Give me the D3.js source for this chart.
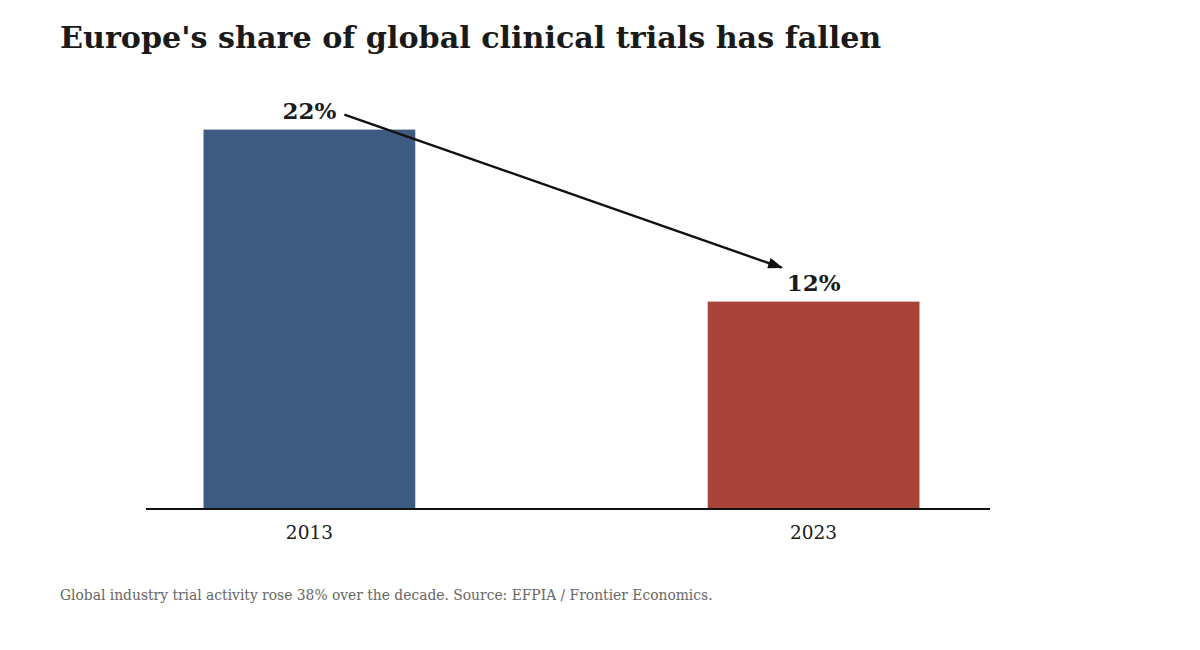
<!DOCTYPE html>
<html>
<head>
<meta charset="utf-8">
<script src="https://cdn.jsdelivr.net/npm/d3@7"></script>
<style>
  body { margin: 0; background: #fff; }
  text { font-family: Georgia, "DejaVu Serif", serif; }
</style>
</head>
<body>
<svg id="chart" width="1200" height="650"></svg>
<script>
// Europe's share of global clinical trials
const YEARS = ['2013', '2023'];
const SHARES = [22, 12];
const COLORS = ['#3d5a80', '#a8443a'];

const W = 1200, H = 650;
const MARGIN = { top: 79, left: 146, right: 210, bottom: 141 };

const svg = d3.select('#chart');

const x = d3.scaleBand()
  .domain(YEARS)
  .range([MARGIN.left - 6, W - MARGIN.right - 7])
  .paddingInner(0.58)
  .paddingOuter(0.126);

const y = d3.scaleLinear()
  .domain([0, 25])
  .range([H - MARGIN.bottom, MARGIN.top]);

// title
svg.append('text')
  .attr('x', 60).attr('y', 48)
  .attr('font-size', 30.2).attr('font-weight', 'bold')
  .attr('fill', '#1a1a1a')
  .text("Europe's share of global clinical trials has fallen");

// bars
svg.selectAll('rect.bar')
  .data(YEARS)
  .join('rect')
  .attr('class', 'bar')
  .attr('x', d => x(d))
  .attr('y', (d, i) => y(SHARES[i]) - 1)
  .attr('width', x.bandwidth())
  .attr('height', (d, i) => y(0) - y(SHARES[i]) + 2)
  .attr('fill', (d, i) => COLORS[i]);

// baseline
svg.append('line')
  .attr('x1', MARGIN.left).attr('x2', W - MARGIN.right)
  .attr('y1', y(0)).attr('y2', y(0))
  .attr('stroke', '#111').attr('stroke-width', 2);

// year labels
svg.selectAll('text.year')
  .data(YEARS)
  .join('text')
  .attr('class', 'year')
  .attr('x', d => x(d) + x.bandwidth() / 2)
  .attr('y', y(0) + 30)
  .attr('text-anchor', 'middle')
  .attr('font-size', 18.5)
  .attr('fill', '#1a1a1a')
  .text(d => d);

// value labels
svg.selectAll('text.val')
  .data(YEARS)
  .join('text')
  .attr('class', 'val')
  .attr('x', d => x(d) + x.bandwidth() / 2)
  .attr('y', (d, i) => y(SHARES[i]) - 12)
  .attr('text-anchor', 'middle')
  .attr('font-size', 23).attr('font-weight', 'bold')
  .attr('fill', '#1a1a1a')
  .text((d, i) => SHARES[i] + '%');

// arrow from first to second label
svg.append('defs').append('marker')
  .attr('id', 'head')
  .attr('viewBox', '0 0 10 10')
  .attr('refX', 9).attr('refY', 5)
  .attr('markerWidth', 15).attr('markerHeight', 11)
  .attr('markerUnits', 'userSpaceOnUse')
  .attr('orient', 'auto')
  .attr('preserveAspectRatio', 'none')
  .append('path')
  .attr('d', 'M0,0 L10,5 L0,10 z')
  .attr('fill', '#111');

const cx0 = x(YEARS[0]) + x.bandwidth() / 2;
const cx1 = x(YEARS[1]) + x.bandwidth() / 2;
svg.append('line')
  .attr('x1', cx0 + 35).attr('y1', y(SHARES[0]) - 16)
  .attr('x2', cx1 - 32).attr('y2', y(SHARES[1]) - 35)
  .attr('stroke', '#111').attr('stroke-width', 2.4)
  .attr('marker-end', 'url(#head)');

// footer
svg.append('text')
  .attr('x', 60).attr('y', 600)
  .attr('font-size', 13.85)
  .attr('fill', '#666')
  .text('Global industry trial activity rose 38% over the decade. Source: EFPIA / Frontier Economics.');
</script>
</body>
</html>
